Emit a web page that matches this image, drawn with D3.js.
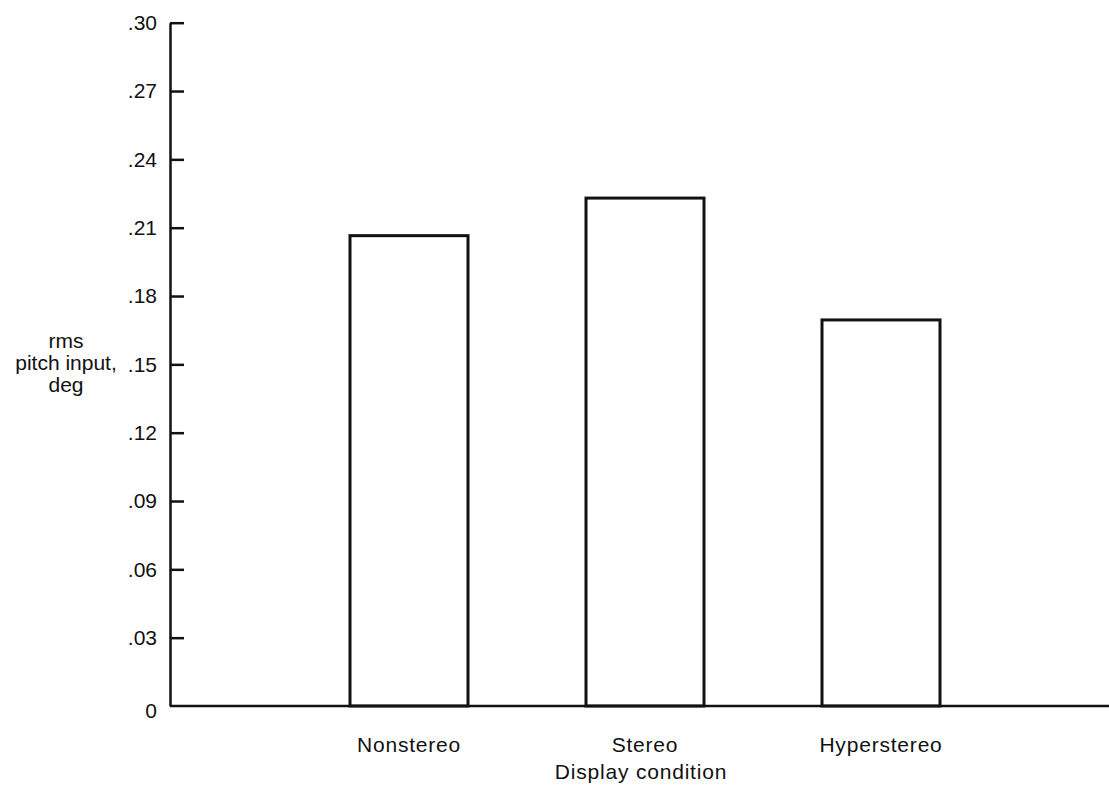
<!DOCTYPE html>
<html>
<head>
<meta charset="utf-8">
<script src="https://cdn.jsdelivr.net/npm/d3@7"></script>
<style>
  html, body { margin: 0; padding: 0; background: #fff; }
  svg { display: block; }
  text { font-family: "Liberation Sans", Arial, Helvetica, sans-serif; fill: #111; }
</style>
</head>
<body>
<svg id="chart" width="1109" height="791"></svg>
<script>
const categories = ["Nonstereo", "Stereo", "Hyperstereo"];
const values = [0.2065, 0.2230, 0.1695];
const yTicks = [0, 0.03, 0.06, 0.09, 0.12, 0.15, 0.18, 0.21, 0.24, 0.27, 0.30];
const yLabelLines = ["rms", "pitch input,", "deg"];
const xTitle = "Display condition";

const svg = d3.select("#chart");
const axisX = 170;
const y = d3.scaleLinear().domain([0, 0.30]).range([706, 22.7]);
const x = d3.scaleBand().domain(categories).range([291, 999])
  .paddingInner(0.5).paddingOuter(0.25);

// bars
svg.append("g").selectAll("rect").data(categories).join("rect")
  .attr("x", d => x(d))
  .attr("y", (d, i) => y(values[i]))
  .attr("width", x.bandwidth())
  .attr("height", (d, i) => y(0) - y(values[i]))
  .attr("fill", "#fff")
  .attr("stroke", "#111")
  .attr("stroke-width", 3);

// baseline
svg.append("line")
  .attr("x1", axisX).attr("x2", 1109)
  .attr("y1", y(0)).attr("y2", y(0))
  .attr("stroke", "#111").attr("stroke-width", 2.5);

// y axis
const fmt = d => d === 0 ? "0" : d3.format(".2f")(d).replace(/^0/, "");
const yAxis = d3.axisLeft(y).tickValues(yTicks).tickFormat(fmt)
  .tickSizeInner(-14).tickSizeOuter(0).tickPadding(13);
const gy = svg.append("g").attr("transform", `translate(${axisX},0)`).call(yAxis);
gy.select(".domain").attr("stroke", "#111").attr("stroke-width", 2.5);
gy.selectAll(".tick line").attr("stroke", "#111").attr("stroke-width", 2.5)
  .filter(d => d === 0).remove();
gy.selectAll(".tick text").attr("font-size", 21).attr("fill", "#111")
  .attr("font-family", "'Liberation Sans', Arial, sans-serif");
gy.selectAll(".tick text").filter(d => d === 0).attr("dy", "0.55em");

// x labels
const xAxis = d3.axisBottom(x).tickSize(0).tickPadding(0);
const gx = svg.append("g").attr("transform", `translate(0,${y(0)})`).call(xAxis);
gx.select(".domain").remove();
gx.selectAll(".tick text").attr("font-size", 21).attr("fill", "#111")
  .attr("letter-spacing", "0.8px")
  .attr("font-family", "'Liberation Sans', Arial, sans-serif")
  .attr("dy", null).attr("y", 46);

svg.append("text")
  .attr("x", 641).attr("y", 779)
  .attr("text-anchor", "middle")
  .attr("font-size", 21).attr("letter-spacing", "0.8px")
  .text(xTitle);

// y label
svg.append("g").selectAll("text").data(yLabelLines).join("text")
  .attr("x", 66)
  .attr("y", (d, i) => 348 + i * 22)
  .attr("text-anchor", "middle")
  .attr("font-size", 21)
  .text(d => d);
</script>
</body>
</html>
